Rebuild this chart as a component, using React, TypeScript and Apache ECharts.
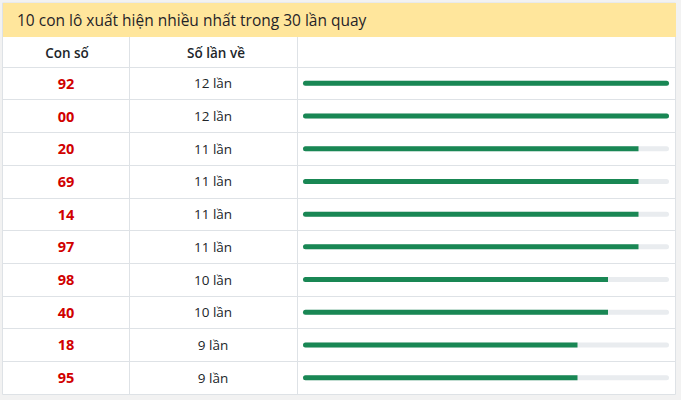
import React, { useEffect, useRef } from "react";
import * as echarts from "echarts";

const title = "10 con lô xuất hiện nhiều nhất trong 30 lần quay";
const headers = ["Con số", "Số lần về"];
const numbers = ["92", "00", "20", "69", "14", "97", "98", "40", "18", "95"];
const counts = [12, 12, 11, 11, 11, 11, 10, 10, 9, 9];
const maxCount = 12;

const FONT = "'Open Sans', 'Noto Sans', sans-serif";
const BORDER = "#dee2e6";

const App: React.FC = () => {
  const chartRef = useRef<HTMLDivElement>(null);

  useEffect(() => {
    if (!chartRef.current) return;
    const chart = echarts.init(chartRef.current, undefined, { renderer: "svg" });

    const option = {
      animation: false,
      backgroundColor: "#f2f2f2",
      textStyle: { fontFamily: FONT },
      grid: [
        // full-width table rows
        { left: 3, right: 6, top: 67, bottom: 6 },
        // progress bar column
        { left: 303, right: 12, top: 67, bottom: 6 },
      ],
      xAxis: [
        { gridIndex: 0, type: "value", show: false, min: 0, max: 1 },
        { gridIndex: 1, type: "value", show: false, min: 0, max: maxCount },
      ],
      yAxis: [
        {
          gridIndex: 0,
          type: "category",
          position: "left",
          inverse: true,
          data: numbers,
          axisLine: { show: false },
          axisTick: { show: false },
          splitLine: { show: true, lineStyle: { color: BORDER, width: 1 } },
          axisLabel: {
            inside: true,
            margin: 63,
            align: "center",
            color: "#d10000",
            fontWeight: "bold",
            fontSize: 14.5,
            fontFamily: FONT,
          },
        },
        {
          gridIndex: 0,
          type: "category",
          position: "left",
          offset: 0,
          inverse: true,
          data: counts.map((c) => `${c} lần`),
          axisLine: { show: false },
          axisTick: { show: false },
          splitLine: { show: false },
          axisLabel: {
            inside: true,
            margin: 210,
            align: "center",
            color: "#212529",
            fontSize: 13.5,
            fontFamily: FONT,
          },
        },
        {
          gridIndex: 1,
          type: "category",
          inverse: true,
          data: numbers,
          show: false,
        },
      ],
      series: [
        {
          type: "bar",
          xAxisIndex: 1,
          yAxisIndex: 2,
          barWidth: 5,
          showBackground: true,
          backgroundStyle: { color: "#e9ecef", borderRadius: 3 },
          data: counts.map((c) => ({
            value: c,
            itemStyle: {
              color: "#198754",
              borderRadius: c >= maxCount ? 3 : [3, 0, 0, 3],
            },
          })),
        },
      ],
      graphic: [
        {
          type: "rect",
          z: -10,
          shape: { x: 2.5, y: 3, width: 673, height: 391.5 },
          style: { fill: "#fff", stroke: BORDER, lineWidth: 1 },
        },
        {
          type: "rect",
          z: -5,
          shape: { x: 3, y: 3, width: 673, height: 34 },
          style: { fill: "#ffe69c" },
        },
        {
          type: "text",
          x: 17,
          y: 20,
          style: {
            text: title,
            fill: "#1f2328",
            font: `500 15.5px ${FONT}`,
            verticalAlign: "middle",
          },
        },
        {
          type: "line",
          shape: { x1: 129.5, y1: 37, x2: 129.5, y2: 394 },
          style: { stroke: BORDER, lineWidth: 1 },
        },
        {
          type: "line",
          shape: { x1: 297.5, y1: 37, x2: 297.5, y2: 394 },
          style: { stroke: BORDER, lineWidth: 1 },
        },
        {
          type: "text",
          x: 67,
          y: 53,
          style: {
            text: headers[0],
            fill: "#212529",
            font: `600 13.5px ${FONT}`,
            align: "center",
            verticalAlign: "middle",
          },
        },
        {
          type: "text",
          x: 216,
          y: 53,
          style: {
            text: headers[1],
            fill: "#212529",
            font: `600 13.5px ${FONT}`,
            align: "center",
            verticalAlign: "middle",
          },
        },
      ],
    };

    chart.setOption(option);
    return () => {
      chart.dispose();
    };
  }, []);

  return (
    <div
      ref={chartRef}
      style={{ position: "fixed", left: 0, top: 0, width: "681px", height: "400px" }}
    />
  );
};

export default App;
